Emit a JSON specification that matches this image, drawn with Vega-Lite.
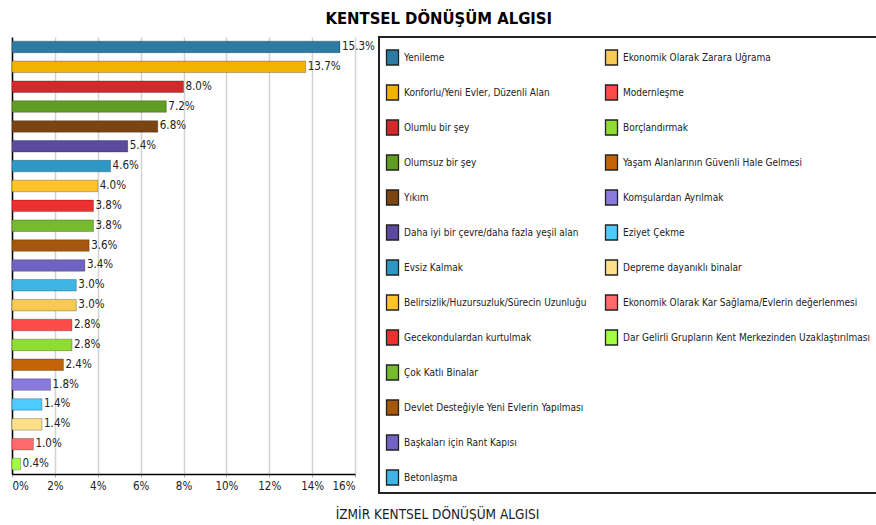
{
  "$schema": "https://vega.github.io/schema/vega-lite/v6.json",
  "padding": {"left": 11, "top": 10, "right": 0, "bottom": 0},
  "title": {"text": "KENTSEL DÖNÜŞÜM ALGISI", "fontSize": 16.5, "fontWeight": "bold", "font": "DejaVu Sans Condensed, Liberation Sans", "color": "#000", "anchor": "middle", "dx": -17, "offset": 9},
  "datasets": {
    "d": [
      {"label": "Yenileme", "value": 0.153},
      {"label": "Konforlu/Yeni Evler, Düzenli Alan", "value": 0.137},
      {"label": "Olumlu bir şey", "value": 0.080},
      {"label": "Olumsuz bir şey", "value": 0.072},
      {"label": "Yıkım", "value": 0.068},
      {"label": "Daha iyi bir çevre/daha fazla yeşil alan", "value": 0.054},
      {"label": "Evsiz Kalmak", "value": 0.046},
      {"label": "Belirsizlik/Huzursuzluk/Sürecin Uzunluğu", "value": 0.040},
      {"label": "Gecekondulardan kurtulmak", "value": 0.038},
      {"label": "Çok Katlı Binalar", "value": 0.038},
      {"label": "Devlet Desteğiyle Yeni Evlerin Yapılması", "value": 0.036},
      {"label": "Başkaları için Rant Kapısı", "value": 0.034},
      {"label": "Betonlaşma", "value": 0.030},
      {"label": "Ekonomik Olarak Zarara Uğrama", "value": 0.030},
      {"label": "Modernleşme", "value": 0.028},
      {"label": "Borçlandırmak", "value": 0.028},
      {"label": "Yaşam Alanlarının Güvenli Hale Gelmesi", "value": 0.024},
      {"label": "Komşulardan Ayrılmak", "value": 0.018},
      {"label": "Eziyet Çekme", "value": 0.014},
      {"label": "Depreme dayanıklı binalar", "value": 0.014},
      {"label": "Ekonomik Olarak Kar Sağlama/Evlerin değerlenmesi", "value": 0.010},
      {"label": "Dar Gelirli Grupların Kent Merkezinden Uzaklaştırılması", "value": 0.004}
    ]
  },
  "spacing": 24,
  "bounds": "flush",
  "hconcat": [
    {
      "width": 343,
      "height": 437,
      "data": {"name": "d"},
      "encoding": {
        "y": {
          "field": "label", "type": "nominal",
          "sort": ["Yenileme", "Konforlu/Yeni Evler, Düzenli Alan", "Olumlu bir şey", "Olumsuz bir şey", "Yıkım", "Daha iyi bir çevre/daha fazla yeşil alan", "Evsiz Kalmak", "Belirsizlik/Huzursuzluk/Sürecin Uzunluğu", "Gecekondulardan kurtulmak", "Çok Katlı Binalar", "Devlet Desteğiyle Yeni Evlerin Yapılması", "Başkaları için Rant Kapısı", "Betonlaşma", "Ekonomik Olarak Zarara Uğrama", "Modernleşme", "Borçlandırmak", "Yaşam Alanlarının Güvenli Hale Gelmesi", "Komşulardan Ayrılmak", "Eziyet Çekme", "Depreme dayanıklı binalar", "Ekonomik Olarak Kar Sağlama/Evlerin değerlenmesi", "Dar Gelirli Grupların Kent Merkezinden Uzaklaştırılması"],
          "scale": {"paddingInner": 0.42, "paddingOuter": 0.21},
          "axis": {"labels": false, "ticks": false, "title": null, "grid": false, "domainColor": "#000", "domainWidth": 1.5}
        },
        "x": {
          "field": "value", "type": "quantitative",
          "scale": {"domain": [0, 0.16], "nice": false},
          "axis": {
            "values": [0, 0.02, 0.04, 0.06, 0.08, 0.1, 0.12, 0.14, 0.16],
            "format": ".0%",
            "grid": true, "gridColor": "#d3d3d3", "gridWidth": 1.5,
            "domainColor": "#000", "domainWidth": 1.5,
            "tickColor": "#aaa", "tickSize": 3,
            "labelFont": "DejaVu Sans Condensed, Liberation Sans",
            "labelFontSize": 11.5, "labelColor": "#222", "labelPadding": 3,
            "title": "İZMİR KENTSEL DÖNÜŞÜM ALGISI",
            "titleFont": "DejaVu Sans Condensed, Liberation Sans",
            "titleFontSize": 13.5, "titleFontWeight": "normal", "titleColor": "#222",
            "titleX": 425, "titleY": 40, "titleAlign": "center", "titleBaseline": "middle"
          }
        }
      },
      "layer": [
        {
          "transform": [{"filter": {"field": "label", "oneOf": ["Yenileme", "Konforlu/Yeni Evler, Düzenli Alan", "Olumlu bir şey", "Olumsuz bir şey", "Yıkım", "Daha iyi bir çevre/daha fazla yeşil alan", "Evsiz Kalmak", "Belirsizlik/Huzursuzluk/Sürecin Uzunluğu", "Gecekondulardan kurtulmak", "Çok Katlı Binalar", "Devlet Desteğiyle Yeni Evlerin Yapılması", "Başkaları için Rant Kapısı", "Betonlaşma"]}}],
          "mark": {"type": "bar", "stroke": "#000", "strokeOpacity": 0.25, "strokeWidth": 1},
          "encoding": {
            "color": {
              "field": "label", "type": "nominal",
              "scale": {
                "domain": ["Yenileme", "Konforlu/Yeni Evler, Düzenli Alan", "Olumlu bir şey", "Olumsuz bir şey", "Yıkım", "Daha iyi bir çevre/daha fazla yeşil alan", "Evsiz Kalmak", "Belirsizlik/Huzursuzluk/Sürecin Uzunluğu", "Gecekondulardan kurtulmak", "Çok Katlı Binalar", "Devlet Desteğiyle Yeni Evlerin Yapılması", "Başkaları için Rant Kapısı", "Betonlaşma"],
                "range": ["#2b7ba3", "#f2b300", "#d22a2a", "#5f9e22", "#7b4511", "#5b4a9e", "#2f97c6", "#ffc42a", "#ec2f2f", "#76bb2c", "#a5580c", "#7163c2", "#3fb5e6"]
              },
              "legend": {"orient": "none", "legendX": 372, "legendY": 12, "title": null}
            }
          }
        },
        {
          "transform": [{"filter": {"field": "label", "oneOf": ["Ekonomik Olarak Zarara Uğrama", "Modernleşme", "Borçlandırmak", "Yaşam Alanlarının Güvenli Hale Gelmesi", "Komşulardan Ayrılmak", "Eziyet Çekme", "Depreme dayanıklı binalar", "Ekonomik Olarak Kar Sağlama/Evlerin değerlenmesi", "Dar Gelirli Grupların Kent Merkezinden Uzaklaştırılması"]}}],
          "mark": {"type": "bar", "stroke": "#000", "strokeOpacity": 0.25, "strokeWidth": 1},
          "encoding": {
            "color": {
              "field": "label", "type": "nominal",
              "scale": {
                "domain": ["Ekonomik Olarak Zarara Uğrama", "Modernleşme", "Borçlandırmak", "Yaşam Alanlarının Güvenli Hale Gelmesi", "Komşulardan Ayrılmak", "Eziyet Çekme", "Depreme dayanıklı binalar", "Ekonomik Olarak Kar Sağlama/Evlerin değerlenmesi", "Dar Gelirli Grupların Kent Merkezinden Uzaklaştırılması"],
                "range": ["#f7c955", "#ff4a4a", "#8fdd31", "#c26306", "#8a7ade", "#4dcbff", "#ffe08a", "#ff6b6b", "#a2ff3f"]
              },
              "legend": {"orient": "none", "legendX": 591, "legendY": 12, "title": null}
            }
          }
        },
        {
          "mark": {"type": "text", "align": "left", "baseline": "middle", "dx": 2, "fontSize": 11.5, "font": "DejaVu Sans Condensed, Liberation Sans", "color": "#222"},
          "encoding": {"text": {"field": "value", "type": "quantitative", "format": ".1%"}}
        }
      ],
      "resolve": {"scale": {"color": "independent"}, "legend": {"color": "independent"}}
    },
    {
      "width": 520,
      "height": 456,
      "data": {"values": [{}]},
      "mark": {"type": "rect", "opacity": 0},
      "encoding": {},
      "view": {"stroke": "#222", "strokeWidth": 2}
    }
  ],
  "config": {
    "view": {"stroke": null},
    "legend": {
      "symbolType": "M-0.8,-1H0.8V1H-0.8Z",
      "symbolSize": 225,
      "symbolStrokeColor": "#222",
      "symbolStrokeWidth": 1.3,
      "symbolOpacity": 1,
      "labelFont": "DejaVu Sans Condensed, Liberation Sans",
      "labelFontSize": 10,
      "labelColor": "#222",
      "labelOffset": 3,
      "rowPadding": 14,
      "labelLimit": 400,
      "padding": 0
    }
  }
}
